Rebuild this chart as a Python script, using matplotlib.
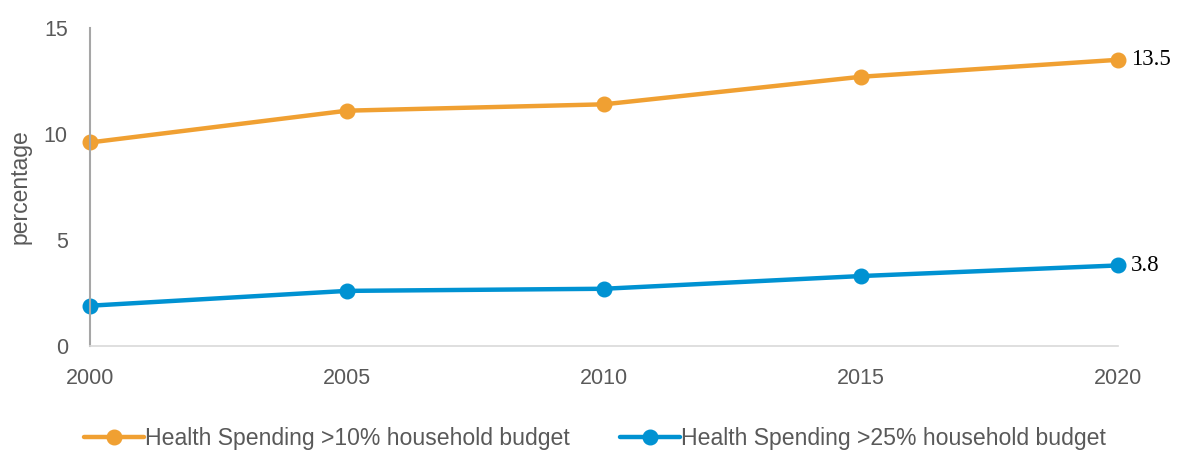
import matplotlib
matplotlib.use("Agg")
import matplotlib.pyplot as plt

years = [2000, 2005, 2010, 2015, 2020]
over10 = [9.6, 11.1, 11.4, 12.7, 13.5]
over25 = [1.9, 2.6, 2.7, 3.3, 3.8]
labels = ["Health Spending >10% household budget", "Health Spending >25% household budget"]
colors = ["#F0A032", "#0092D2"]

plt.rcParams["font.family"] = ["Liberation Sans", "DejaVu Sans"]

fig = plt.figure(figsize=(11.78, 4.51), dpi=100)
ax = fig.add_axes([90/1178, 105/451, (1118-90)/1178, (346-28)/451])

for vals, c, lab in zip([over10, over25], colors, labels):
    ax.plot(years, vals, color=c, lw=3.2, marker="o", ms=10.5, label=lab, solid_capstyle="round")
    ax.text(years[-1] + 0.25, vals[-1], f"{vals[-1]}", fontsize=16.5, family=["Liberation Serif", "DejaVu Serif"],
            va="center", ha="left", color="black")

ax.set_xlim(2000, 2020)
ax.set_ylim(0, 15)
ax.set_xticks(years)
ax.set_yticks([0, 5, 10, 15])
ax.tick_params(length=0, labelsize=15.5, labelcolor="#595959")
ax.tick_params(axis="x", pad=15.5)
ax.tick_params(axis="y", pad=16)
for s in ["top", "right"]:
    ax.spines[s].set_visible(False)
ax.spines["left"].set_color("#A6A6A6")
ax.spines["left"].set_linewidth(1.5)
ax.spines["bottom"].set_color("#D9D9D9")
ax.spines["bottom"].set_linewidth(1.2)
for l in ax.lines:
    l.set_clip_on(False)
ax.set_ylabel("percentage", fontsize=16.5, color="#595959", labelpad=8.5)

fig.legend(loc="center", bbox_to_anchor=(0.505, 1 - 439/451), ncol=2, frameon=False,
           prop={"size": 16.6},
           handlelength=2.6, handletextpad=0.05, columnspacing=2.2, labelcolor="#595959")

fig.savefig("out.png", dpi=100)
